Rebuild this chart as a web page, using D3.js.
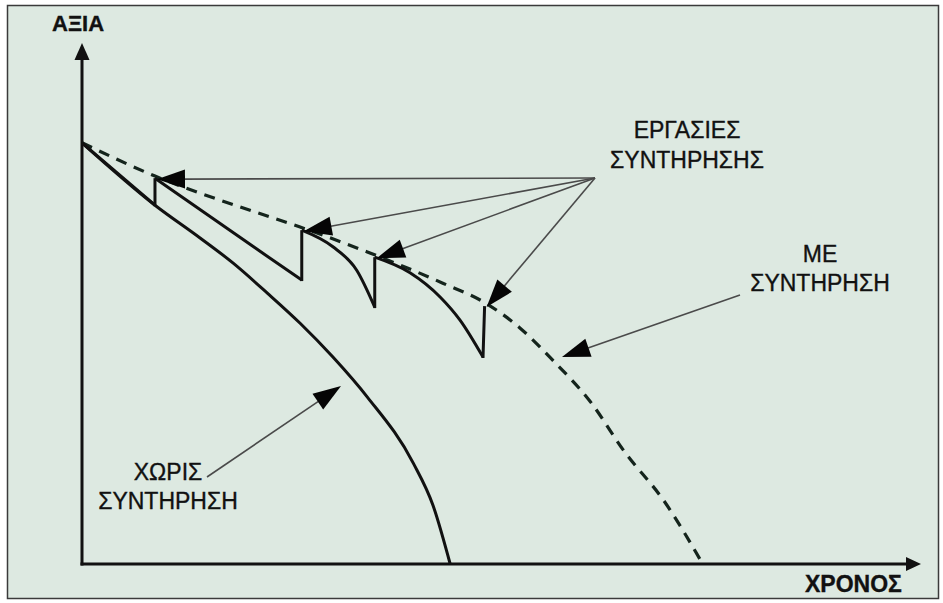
<!DOCTYPE html>
<html>
<head>
<meta charset="utf-8">
<script src="https://cdn.jsdelivr.net/npm/d3@7"></script>
<style>
  html, body { margin: 0; padding: 0; background: #ffffff; }
  svg { display: block; }
  text { font-family: "Liberation Sans", Arial, sans-serif; fill: #111; stroke: #111; stroke-width: 0.35px; }
</style>
</head>
<body>
<svg id="chart" width="943" height="603"></svg>
<script>
// ---------- DATA (time, value) in abstract units ----------
const axisLabels = { x: "ΧΡΟΝΟΣ", y: "ΑΞΙΑ" };

// Value without maintenance
const noMaintenance = [
  [0, 81], [8.9, 69.0], [14.4, 62.7], [18.4, 57.9], [22.6, 52.1],
  [26.6, 46.3], [30.6, 39.8], [34.8, 32.1], [40.4, 19.4], [42.8, 11.3], [44.9, 0]
];

// Value with maintenance (envelope, dashed)
const withMaintenance = [
  [0, 81], [8.9, 74.6], [21.1, 67.7], [26.6, 64.8], [34.8, 60.0],
  [44.0, 54.0], [49.4, 50.0], [53.4, 45.4], [57.4, 39.2], [62.0, 31.2],
  [66.2, 21.5], [70.9, 12.3], [75.7, 0]
];

// Actual value between maintenance works (sawtooth segments)
const maintenanceSegments = [
  [[0, 81], [8.9, 69.0]],
  [[8.9, 74.2], [21.1, 60.8], [26.8, 54.6]],
  [[26.8, 64.2], [30.6, 61.0], [33.5, 56.5], [35.7, 49.4]],
  [[35.7, 59.0], [40.0, 56.0], [43.7, 51.3], [46.1, 46.9], [48.9, 39.8]],
  [[49.1, 49.6]]
];

const labelWorks = ["ΕΡΓΑΣΙΕΣ", "ΣΥΝΤΗΡΗΣΗΣ"];
const labelWith = ["ΜΕ", "ΣΥΝΤΗΡΗΣΗ"];
const labelWithout = ["ΧΩΡΙΣ", "ΣΥΝΤΗΡΗΣΗ"];

// ---------- DRAWING ----------
const svg = d3.select("#chart");

const x = d3.scaleLinear().domain([0, 100]).range([82, 902]);
const y = d3.scaleLinear().domain([0, 100]).range([564, 44]);

// background frame
svg.append("rect")
  .attr("x", 7.5).attr("y", 5.5).attr("width", 931).attr("height", 593)
  .attr("fill", "#dde9e1").attr("stroke", "#3a3a3a").attr("stroke-width", 1.5);

const ink = "#111";

// arrow head helper: tip at (tx,ty), coming from (fx,fy)
function head(g, fx, fy, tx, ty, len, half, color) {
  const a = Math.atan2(ty - fy, tx - fx);
  const bx = tx - len * Math.cos(a), by = ty - len * Math.sin(a);
  const px = -Math.sin(a) * half, py = Math.cos(a) * half;
  g.append("path")
    .attr("d", `M${tx},${ty}L${bx + px},${by + py}L${bx - px},${by - py}Z`)
    .attr("fill", color);
}

// axes
const axes = svg.append("g");
axes.append("line")
  .attr("x1", x(0)).attr("y1", y(0) + 1.5).attr("x2", x(0)).attr("y2", y(100) + 12)
  .attr("stroke", ink).attr("stroke-width", 3);
head(axes, x(0), y(0), x(0), y(100) - 1, 17, 7.5, ink);
axes.append("line")
  .attr("x1", x(0) - 1.5).attr("y1", y(0)).attr("x2", 910).attr("y2", y(0))
  .attr("stroke", ink).attr("stroke-width", 3);
head(axes, x(0), y(0), 921, y(0), 15, 7, ink);

axes.append("text").attr("x", 52).attr("y", 31)
  .attr("font-size", 22).attr("font-weight", "bold").text(axisLabels.y);
axes.append("text").attr("x", 805).attr("y", 592)
  .attr("font-size", 23).attr("font-weight", "bold").text(axisLabels.x);

// curves
const line = d3.line().x(d => x(d[0])).y(d => y(d[1])).curve(d3.curveMonotoneX);

svg.append("path").datum(noMaintenance)
  .attr("d", line).attr("fill", "none")
  .attr("stroke", ink).attr("stroke-width", 3);

svg.append("path").datum(withMaintenance)
  .attr("d", line).attr("fill", "none")
  .attr("stroke", "#14241c").attr("stroke-width", 3.2)
  .attr("stroke-dasharray", "11,8");

const saw = svg.append("g");
maintenanceSegments.forEach((seg, i) => {
  if (seg.length > 1) {
    saw.append("path").datum(seg)
      .attr("d", line).attr("fill", "none")
      .attr("stroke", ink).attr("stroke-width", 3)
      .attr("stroke-linejoin", "miter");
  }
  if (i > 0) {
    const prev = maintenanceSegments[i - 1];
    const a = prev[prev.length - 1], b = seg[0];
    saw.append("line")
      .attr("x1", x(a[0])).attr("y1", y(a[1]) + 1)
      .attr("x2", x(b[0])).attr("y2", y(b[1]))
      .attr("stroke", ink).attr("stroke-width", 3);
  }
});

// annotations
const ann = svg.append("g");
const arrowColor = "#4a4a4a";
function arrow(fx, fy, tx, ty) {
  const a = Math.atan2(ty - fy, tx - fx);
  const len = 28;
  ann.append("line")
    .attr("x1", fx).attr("y1", fy)
    .attr("x2", tx - (len - 2) * Math.cos(a)).attr("y2", ty - (len - 2) * Math.sin(a))
    .attr("stroke", arrowColor).attr("stroke-width", 1.6);
  head(ann, fx, fy, tx, ty, len, 9.5, "#050505");
}

// maintenance works -> tops of each jump
const hub = [595, 178];
maintenanceSegments.slice(1).forEach(seg => {
  const p = seg[0];
  arrow(hub[0], hub[1], x(p[0]) + 2, y(p[1]) + 1);
});

// with maintenance label arrow
arrow(740, 295, 562, 357);
// without maintenance label arrow
arrow(207, 477, 341, 386);

// labels
function label(lines, cx, by, step) {
  lines.forEach((t, i) => {
    ann.append("text").attr("x", cx).attr("y", by + i * step)
      .attr("text-anchor", "middle").attr("font-size", 23).text(t);
  });
}
label(labelWorks, 687, 138, 30);
label(labelWith, 820, 262, 28.5);
label(labelWithout, 168, 480, 29);
</script>
</body>
</html>
